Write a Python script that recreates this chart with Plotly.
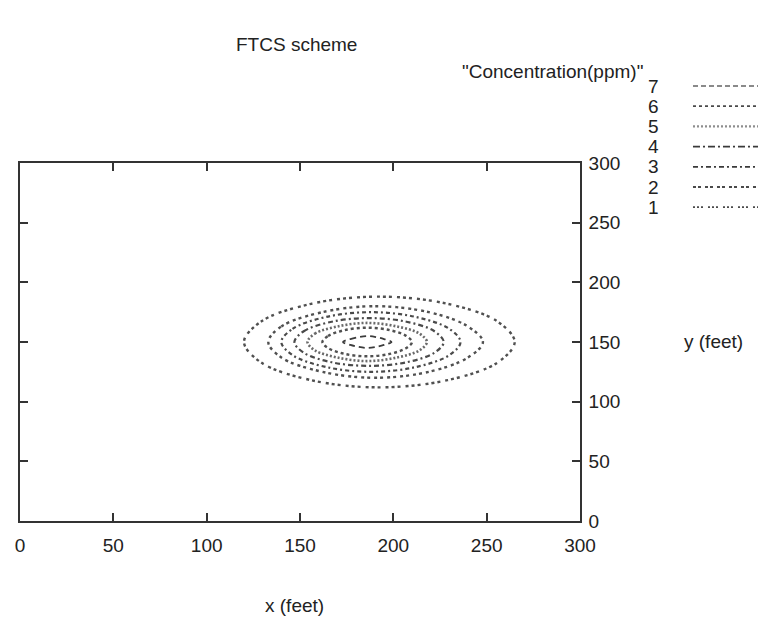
import plotly.graph_objects as go

# ---- data (data units: feet) ----
levels = [7, 6, 5, 4, 3, 2, 1]
legend_title = '"Concentration(ppm)"'
x_ticks = [0, 50, 100, 150, 200, 250, 300]
y_ticks = [0, 50, 100, 150, 200, 250, 300]

c1_x = [120, 129, 156, 192, 229, 256, 265, 256, 229, 192, 156, 129, 120]
c1_y = [150, 167, 182, 188, 182, 167, 150, 133, 118, 112, 118, 133, 150]
c2_x = [133, 140, 162, 190, 219, 240, 248, 240, 219, 190, 162, 140, 133]
c2_y = [150, 163, 175, 180, 175, 163, 150, 137, 125, 120, 125, 137, 150]
c3_x = [140, 146, 164, 188, 212, 230, 236, 230, 212, 188, 164, 146, 140]
c3_y = [150, 161, 171, 175, 171, 161, 150, 139, 129, 125, 129, 139, 150]
c4_x = [147, 152, 167, 187, 207, 222, 227, 222, 207, 187, 167, 152, 147]
c4_y = [150, 159, 167, 170, 167, 159, 150, 141, 133, 130, 133, 141, 150]
c5_x = [154, 158, 170, 186, 202, 214, 218, 214, 202, 186, 170, 158, 154]
c5_y = [150, 157, 163, 166, 163, 157, 150, 143, 137, 134, 137, 143, 150]
c6_x = [162, 165, 174, 186, 198, 207, 210, 207, 198, 186, 174, 165, 162]
c6_y = [150, 155, 160, 162, 160, 155, 150, 145, 140, 138, 140, 145, 150]
c7_x = [173, 177, 181, 186, 191, 195, 199, 195, 191, 186, 181, 177, 173]
c7_y = [150, 152.5, 154, 155, 154, 152.5, 150, 147.5, 146, 145, 146, 147.5, 150]

contours = {1: (c1_x, c1_y), 2: (c2_x, c2_y), 3: (c3_x, c3_y), 4: (c4_x, c4_y),
            5: (c5_x, c5_y), 6: (c6_x, c6_y), 7: (c7_x, c7_y)}

styles = {
    7: dict(color="#8a8a8a", dash="5px,3px", width=2.0),
    6: dict(color="#4a4a4a", dash="3px,3px", width=1.8),
    5: dict(color="#8e8e8e", dash="2px,2px", width=2.4),
    4: dict(color="#3a3a3a", dash="7px,3px,2px,3px", width=1.7),
    3: dict(color="#3a3a3a", dash="5px,3px,2px,3px", width=1.7),
    2: dict(color="#4a4a4a", dash="3px,2px,3px,4px", width=1.8),
    1: dict(color="#4a4a4a", dash="2px,2px,2px,2px,2px,5px", width=1.8),
}
contour_styles = {
    7: dict(color="#3c3c3c", dash="6px,4px", width=1.8),
    6: dict(color="#505050", dash="3px,3px", width=2.4),
    5: dict(color="#6a6a6a", dash="2px,2px", width=2.6),
    4: dict(color="#4a4a4a", dash="5px,3px,2px,3px", width=2.2),
    3: dict(color="#4a4a4a", dash="4px,3px,2px,3px", width=2.2),
    2: dict(color="#505050", dash="3px,3px,3px,4px", width=2.4),
    1: dict(color="#505050", dash="3px,3px,3px,3px,3px,5px", width=2.4),
}

fig = go.Figure()
for lv in levels:
    xs, ys = contours[lv]
    st = contour_styles[lv]
    fig.add_trace(go.Scatter(x=xs, y=ys, mode="lines", name=str(lv),
                             line=dict(color=st["color"], dash=st["dash"], width=st["width"],
                                       shape="spline", smoothing=1.0),
                             showlegend=False, hoverinfo="skip"))

font = dict(family="Liberation Sans, Arial, sans-serif", size=19, color="#222222")

# plot box in screenshot pixels (page has an 8px body margin)
OFF = 8
L, R, T, B = 15, 580, 163, 521
W = R - L
H = B - T

def px(x):
    return (x - L) / W

def py(y):
    return (B - y) / H

annotations = [
    dict(text="FTCS scheme", x=px(294), y=py(45), xref="paper", yref="paper",
         showarrow=False, font=font, xanchor="center", yanchor="middle"),
    dict(text="x (feet)", x=px(292), y=py(605), xref="paper", yref="paper",
         showarrow=False, font=font, xanchor="center", yanchor="middle"),
    dict(text="y (feet)", x=px(715), y=py(341), xref="paper", yref="paper",
         showarrow=False, font=font, xanchor="center", yanchor="middle"),
    dict(text=legend_title, x=px(646), y=py(72), xref="paper", yref="paper",
         showarrow=False, font=font, xanchor="right", yanchor="middle"),
]
shapes = []
for i, lv in enumerate(levels):
    rowy = 86 + 20.2 * i
    annotations.append(dict(text=str(lv), x=px(662), y=py(rowy), xref="paper", yref="paper",
                            showarrow=False, font=font, xanchor="right", yanchor="middle"))
    st = styles[lv]
    shapes.append(dict(type="line", xref="paper", yref="paper",
                       x0=px(694), x1=px(775), y0=py(rowy), y1=py(rowy),
                       line=dict(color=st["color"], dash=st["dash"], width=st["width"])))

axis_common = dict(range=[0, 300], showgrid=False, zeroline=False, showline=True,
                   linecolor="#333333", linewidth=1.6, ticks="inside", ticklen=8,
                   tickwidth=1.6, tickcolor="#333333", mirror="ticks", tickfont=font)

fig.update_layout(
    width=766, height=622,
    margin=dict(l=L - OFF, r=766 - (R - OFF), t=T - OFF, b=622 - (B - OFF)),
    paper_bgcolor="white", plot_bgcolor="white",
    xaxis=dict(axis_common, tickvals=x_ticks, ticktext=[str(v) for v in x_ticks],
               ticklabelstandoff=6),
    yaxis=dict(axis_common, tickvals=y_ticks, ticktext=[str(v) for v in y_ticks],
               side="right", ticklabelstandoff=3),
    annotations=annotations,
    shapes=shapes,
    showlegend=False,
)

fig.write_html("out.html")
